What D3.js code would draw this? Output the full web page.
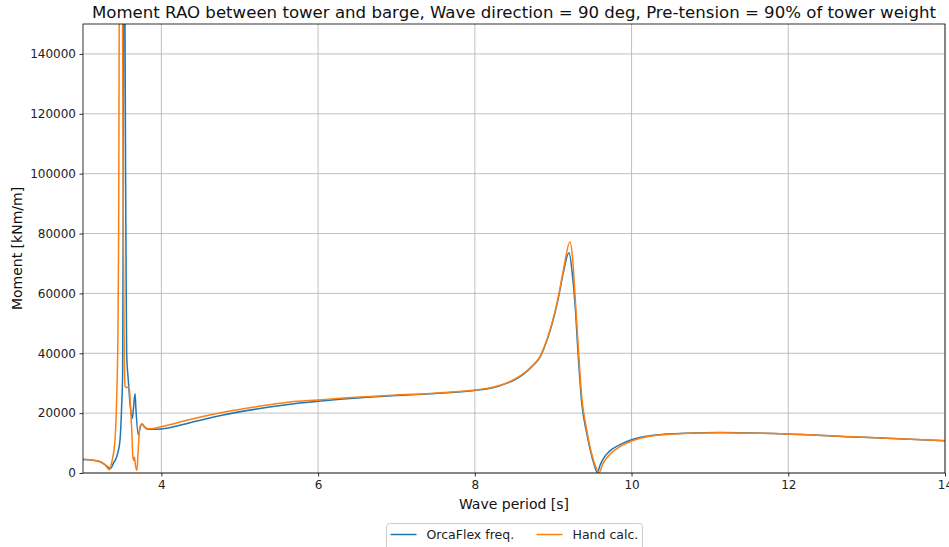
<!DOCTYPE html>
<html>
<head>
<meta charset="utf-8">
<script src="https://cdn.jsdelivr.net/npm/d3@7"></script>
<style>
  html, body { margin: 0; padding: 0; background: #fff; }
  svg { display: block; font-family: "DejaVu Sans", sans-serif; }
</style>
</head>
<body>
<svg id="chart" width="949" height="547"></svg>
<script>
// ---- Data ----
const blueX = [3.00, 3.10, 3.20, 3.27, 3.32, 3.353, 3.387, 3.43, 3.472, 3.493, 3.506, 3.514, 3.525, 3.536, 3.549, 3.557, 3.578, 3.60, 3.63, 3.642, 3.664, 3.676, 3.706, 3.727, 3.749, 3.791, 3.834, 3.9, 4.0, 4.366, 4.79, 5.217, 5.64, 6.0, 6.28, 7.0, 7.43, 8.0, 8.15, 8.30, 8.42, 8.52, 8.63, 8.74, 8.832, 8.89, 8.96, 9.02, 9.066, 9.13, 9.202, 9.25, 9.28, 9.32, 9.364, 9.428, 9.513, 9.563, 9.60, 9.65, 9.72, 9.853, 10.0, 10.28, 10.70, 11.13, 11.98, 12.96, 14.0];
const blueY = [4500, 4300, 3900, 3000, 2000, 1500, 3240, 5450, 11000, 22150, 33300, 90000, 400000, 150000, 73400, 40000, 31000, 23300, 18270, 21000, 26600, 21000, 12700, 14900, 16400, 15250, 14600, 14600, 14700, 16800, 19370, 21380, 23000, 23950, 24600, 25900, 26450, 27600, 28100, 29000, 30100, 31300, 33200, 35800, 38700, 42200, 47500, 53200, 58500, 67000, 73600, 65000, 56000, 39000, 23500, 13300, 3700, 200, 2700, 5200, 7300, 9500, 11100, 12600, 13300, 13500, 13030, 11920, 10750];

const orangeX = [3.00, 3.10, 3.217, 3.28, 3.336, 3.37, 3.408, 3.43, 3.445, 3.455, 3.462, 3.482, 3.505, 3.515, 3.525, 3.536, 3.56, 3.575, 3.59, 3.605, 3.621, 3.636, 3.647, 3.657, 3.667, 3.688, 3.705, 3.727, 3.757, 3.79, 3.812, 3.855, 4.0, 4.366, 4.79, 5.217, 5.64, 6.0, 6.28, 7.0, 7.43, 8.0, 8.15, 8.30, 8.42, 8.52, 8.63, 8.74, 8.832, 8.89, 8.96, 9.02, 9.066, 9.13, 9.215, 9.25, 9.28, 9.32, 9.364, 9.428, 9.513, 9.588, 9.63, 9.683, 9.75, 9.853, 10.0, 10.28, 10.70, 11.13, 11.98, 12.96, 14.0];
const orangeY = [4600, 4400, 3780, 2800, 1100, 4000, 11000, 25000, 45000, 80000, 150000, 450000, 150000, 80000, 45000, 29000, 28500, 28700, 28300, 23000, 15000, 5500, 4200, 5300, 3000, 800, 8000, 15500, 16400, 15100, 14900, 14800, 15470, 17900, 20270, 22150, 23700, 24400, 24950, 26060, 26600, 27730, 28250, 29150, 30250, 31500, 33400, 36000, 38900, 42400, 47800, 53600, 58900, 67800, 77270, 71000, 58900, 42200, 25500, 14400, 4340, 200, 2900, 5000, 6900, 8800, 10700, 12470, 13250, 13470, 13030, 11920, 10800];

const seriesNames = ["OrcaFlex freq.", "Hand calc."];
const seriesColors = ["#1f77b4", "#ff7f0e"];
const xTicks = [4, 6, 8, 10, 12, 14];
const yTicks = [0, 20000, 40000, 60000, 80000, 100000, 120000, 140000];
const titleText = "Moment RAO between tower and barge, Wave direction = 90 deg, Pre-tension = 90% of tower weight";
const xLabel = "Wave period [s]";
const yLabel = "Moment [kNm/m]";

// ---- Layout ----
const W = 949, H = 547;
const m = { left: 83, right: 4, top: 24, bottom: 74 };
const iw = W - m.left - m.right, ih = H - m.top - m.bottom;

const svg = d3.select("#chart");
const g = svg.append("g").attr("transform", `translate(${m.left},${m.top})`);

const x = d3.scaleLinear().domain([3, 14]).range([0, iw]);
const y = d3.scaleLinear().domain([0, 150000]).range([ih, 0]);

// Grid
g.append("g").selectAll("line").data(xTicks).join("line")
  .attr("x1", d => x(d)).attr("x2", d => x(d)).attr("y1", 0).attr("y2", ih)
  .attr("stroke", "#b0b0b0").attr("stroke-width", 0.8);
g.append("g").selectAll("line").data(yTicks).join("line")
  .attr("x1", 0).attr("x2", iw).attr("y1", d => y(d)).attr("y2", d => y(d))
  .attr("stroke", "#b0b0b0").attr("stroke-width", 0.8);

// Clip
svg.append("defs").append("clipPath").attr("id", "clip")
  .append("rect").attr("x", 0).attr("y", 0).attr("width", iw).attr("height", ih);

const line = d3.line().x(d => x(d[0])).y(d => y(d[1])).curve(d3.curveMonotoneX);
const series = [d3.zip(blueX, blueY), d3.zip(orangeX, orangeY)];
const plot = g.append("g").attr("clip-path", "url(#clip)");
series.forEach((s, i) => {
  plot.append("path").datum(s).attr("d", line)
    .attr("fill", "none").attr("stroke", seriesColors[i])
    .attr("stroke-width", 1.5).attr("stroke-linejoin", "round");
});

// Axes
const xAxis = d3.axisBottom(x).tickValues(xTicks).tickSize(3.5).tickPadding(3.5).tickFormat(d3.format("d"));
const yAxis = d3.axisLeft(y).tickValues(yTicks).tickSize(3.5).tickPadding(3.5).tickFormat(d3.format("d"));
const gx = g.append("g").attr("transform", `translate(0,${ih})`).call(xAxis);
const gy = g.append("g").call(yAxis);
[gx, gy].forEach(a => {
  a.select(".domain").remove();
  a.selectAll("line").attr("stroke", "#000").attr("stroke-width", 0.8);
  a.selectAll("text").attr("font-size", 12).attr("fill", "#222")
    .attr("font-family", "DejaVu Sans, sans-serif");
});

// Spines
g.append("rect").attr("x", 0).attr("y", 0).attr("width", iw).attr("height", ih)
  .attr("fill", "none").attr("stroke", "#000").attr("stroke-width", 0.8);

// Title & labels
svg.append("text").attr("x", m.left + iw / 2).attr("y", 18)
  .attr("text-anchor", "middle").attr("font-size", 16.6).attr("fill", "#111").text(titleText);
svg.append("text").attr("x", m.left + iw / 2).attr("y", 509)
  .attr("text-anchor", "middle").attr("font-size", 14).attr("fill", "#111").text(xLabel);
svg.append("text").attr("transform", `translate(22,${m.top + ih / 2}) rotate(-90)`)
  .attr("text-anchor", "middle").attr("font-size", 14).attr("fill", "#111").text(yLabel);

// Legend
const lg = svg.append("g").attr("transform", "translate(386.5,523.5)");
lg.append("rect").attr("width", 256).attr("height", 30).attr("rx", 3)
  .attr("fill", "#fff").attr("stroke", "#ccc").attr("stroke-width", 1);
const legendPos = [4, 150];
seriesNames.forEach((n, i) => {
  const ix = legendPos[i];
  lg.append("line").attr("x1", ix).attr("x2", ix + 26).attr("y1", 11).attr("y2", 11)
    .attr("stroke", seriesColors[i]).attr("stroke-width", 1.5);
  lg.append("text").attr("x", ix + 36).attr("y", 15.5).attr("font-size", 12.5)
    .attr("fill", "#222").text(n);
});
</script>
</body>
</html>
